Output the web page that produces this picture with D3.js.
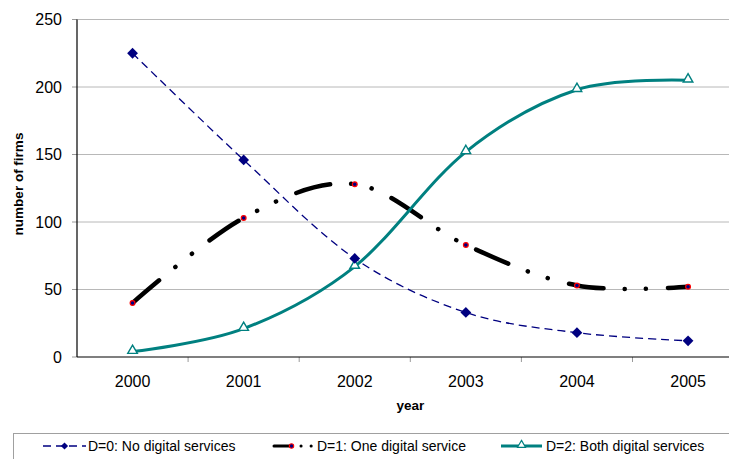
<!DOCTYPE html>
<html>
<head>
<meta charset="utf-8">
<script src="https://cdn.jsdelivr.net/npm/d3@7"></script>
<style>
	body { margin: 0; background: #fff; }
	svg { display: block; font-family: "Liberation Sans", Arial, sans-serif; }
	.grid-line { stroke: #b8b8b8; stroke-width: 1; }
	.axis-line { stroke: #000; stroke-width: 1.2; }
	.tick-mark { stroke: #9a9a9a; stroke-width: 1; }
	.tick-label { font-size: 16px; fill: #000; }
	.axis-title { font-size: 13.5px; font-weight: bold; fill: #000; }
	.legend-text { font-size: 14px; fill: #000; }
</style>
</head>
<body>
<div id="chart"></div>
<script>
////////////////////////////////////////////////////////////
//////////////////////// Data //////////////////////////////
////////////////////////////////////////////////////////////

var years = ["2000", "2001", "2002", "2003", "2004", "2005"];
var yTicks = [0, 50, 100, 150, 200, 250];

var noDigital = [225, 146, 73, 33, 18, 12];
var oneDigital = [40, 103, 128, 83, 53, 52];
var bothDigital = [4, 21, 67, 152, 198, 205];

var seriesNames = ["D=0: No digital services", "D=1: One digital service", "D=2: Both digital services"];

////////////////////////////////////////////////////////////
//////////////////////// Set-up ////////////////////////////
////////////////////////////////////////////////////////////

var width = 729, height = 459;
var plot = {left: 77, right: 743.6, top: 19.5, bottom: 357};

var svg = d3.select("#chart").append("svg")
	.attr("width", width)
	.attr("height", height);

var x = d3.scaleBand()
	.domain(years)
	.range([plot.left, plot.right])
	.padding(0);

var y = d3.scaleLinear()
	.domain([0, 250])
	.range([plot.bottom, plot.top]);

var cx = function(d, i) { return x(years[i]) + x.bandwidth() / 2; };

////////////////////////////////////////////////////////////
//////////////////////// Axes //////////////////////////////
////////////////////////////////////////////////////////////

//Horizontal gridlines
svg.selectAll(".grid-line")
	.data(yTicks.filter(function(d) { return d > 0; }))
	.enter().append("line")
	.attr("class", "grid-line")
	.attr("x1", plot.left)
	.attr("x2", width)
	.attr("y1", function(d) { return y(d); })
	.attr("y2", function(d) { return y(d); });

//Y ticks and labels
svg.selectAll(".y-tick")
	.data(yTicks)
	.enter().append("line")
	.attr("class", "tick-mark")
	.attr("x1", plot.left - 5)
	.attr("x2", plot.left)
	.attr("y1", function(d) { return y(d); })
	.attr("y2", function(d) { return y(d); });

svg.selectAll(".y-label")
	.data(yTicks)
	.enter().append("text")
	.attr("class", "tick-label")
	.attr("x", 62)
	.attr("y", function(d) { return y(d); })
	.attr("dy", "0.36em")
	.attr("text-anchor", "end")
	.text(function(d) { return d; });

//X ticks at category boundaries
svg.selectAll(".x-tick")
	.data(years.slice(1))
	.enter().append("line")
	.attr("class", "tick-mark")
	.attr("x1", function(d) { return x(d); })
	.attr("x2", function(d) { return x(d); })
	.attr("y1", plot.bottom)
	.attr("y2", plot.bottom + 5);

svg.selectAll(".x-label")
	.data(years)
	.enter().append("text")
	.attr("class", "tick-label")
	.attr("x", function(d) { return x(d) + x.bandwidth() / 2; })
	.attr("y", 387)
	.attr("text-anchor", "middle")
	.text(function(d) { return d; });

//Axis lines
svg.append("line")
	.attr("class", "axis-line")
	.attr("x1", plot.left).attr("x2", plot.left)
	.attr("y1", plot.top).attr("y2", plot.bottom);
svg.append("line")
	.attr("class", "axis-line")
	.attr("x1", plot.left).attr("x2", width)
	.attr("y1", plot.bottom).attr("y2", plot.bottom);

//Axis titles
svg.append("text")
	.attr("class", "axis-title")
	.attr("x", (plot.left + plot.right) / 2)
	.attr("y", 410)
	.attr("text-anchor", "middle")
	.text("year");

svg.append("text")
	.attr("class", "axis-title")
	.attr("transform", "translate(23," + 184 + ")rotate(-90)")
	.attr("text-anchor", "middle")
	.text("number of firms");

////////////////////////////////////////////////////////////
//////////////////////// Lines /////////////////////////////
////////////////////////////////////////////////////////////

var line = d3.line()
	.x(cx)
	.y(function(d) { return y(d); })
	.curve(d3.curveCatmullRom.alpha(0));

//D=1 black long dash dot dot
svg.append("path")
	.attr("d", line(oneDigital))
	.style("fill", "none")
	.style("stroke", "#000")
	.style("stroke-width", 4.5)
	.style("stroke-linecap", "round")
	.style("stroke-dasharray", "35,21,0.1,21,0.1,22");

//D=2 teal solid
svg.append("path")
	.attr("d", line(bothDigital))
	.style("fill", "none")
	.style("stroke", "#008080")
	.style("stroke-width", 3);

//D=0 navy dashed
svg.append("path")
	.attr("d", line(noDigital))
	.style("fill", "none")
	.style("stroke", "#000080")
	.style("stroke-width", 1.3)
	.style("stroke-dasharray", "8,5");

////////////////////////////////////////////////////////////
/////////////////////// Markers ////////////////////////////
////////////////////////////////////////////////////////////

var diamond = d3.symbol().type(d3.symbolSquare).size(58);
var triangle = d3.symbol().type(d3.symbolTriangle).size(40);

svg.selectAll(".marker-one")
	.data(oneDigital)
	.enter().append("circle")
	.attr("cx", cx)
	.attr("cy", function(d) { return y(d); })
	.attr("r", 2.4)
	.style("fill", "#000080")
	.style("stroke", "#ff0000")
	.style("stroke-width", 1.2);

svg.selectAll(".marker-both")
	.data(bothDigital)
	.enter().append("path")
	.attr("d", triangle)
	.attr("transform", function(d, i) { return "translate(" + cx(d, i) + "," + (y(d) - 1) + ")"; })
	.style("fill", "#fff")
	.style("stroke", "#008080")
	.style("stroke-width", 1.4);

svg.selectAll(".marker-no")
	.data(noDigital)
	.enter().append("path")
	.attr("d", diamond)
	.attr("transform", function(d, i) { return "translate(" + cx(d, i) + "," + y(d) + ")rotate(45)"; })
	.style("fill", "#000080");

////////////////////////////////////////////////////////////
/////////////////////// Legend /////////////////////////////
////////////////////////////////////////////////////////////

svg.append("rect")
	.attr("x", 13.5)
	.attr("y", 433.5)
	.attr("width", 800)
	.attr("height", 100)
	.style("fill", "none")
	.style("stroke", "#a0a0a0");

var legendY = 446;

//D=0
svg.append("line")
	.attr("x1", 43).attr("x2", 86)
	.attr("y1", legendY).attr("y2", legendY)
	.style("stroke", "#000080")
	.style("stroke-width", 1.3)
	.style("stroke-dasharray", "8,5");
svg.append("path")
	.attr("d", d3.symbol().type(d3.symbolSquare).size(26))
	.attr("transform", "translate(64.5," + legendY + ")rotate(45)")
	.style("fill", "#000080");

//D=1
svg.append("line")
	.attr("x1", 274).attr("x2", 315)
	.attr("y1", legendY).attr("y2", legendY)
	.style("stroke", "#000")
	.style("stroke-width", 3)
	.style("stroke-linecap", "round")
	.style("stroke-dasharray", "18,9,0.1,10,0.1,20");
svg.append("circle")
	.attr("cx", 291.5).attr("cy", legendY)
	.attr("r", 2.2)
	.style("fill", "#000080")
	.style("stroke", "#ff0000")
	.style("stroke-width", 1.1);

//D=2
svg.append("line")
	.attr("x1", 501).attr("x2", 542)
	.attr("y1", legendY).attr("y2", legendY)
	.style("stroke", "#008080")
	.style("stroke-width", 3);
svg.append("path")
	.attr("d", d3.symbol().type(d3.symbolTriangle).size(28))
	.attr("transform", "translate(521.5," + (legendY - 1) + ")")
	.style("fill", "#fff")
	.style("stroke", "#008080")
	.style("stroke-width", 1.2);

svg.selectAll(".legend-text")
	.data(seriesNames)
	.enter().append("text")
	.attr("class", "legend-text")
	.attr("x", function(d, i) { return [88, 317, 546][i]; })
	.attr("y", 451)
	.text(function(d) { return d; });
</script>
</body>
</html>
